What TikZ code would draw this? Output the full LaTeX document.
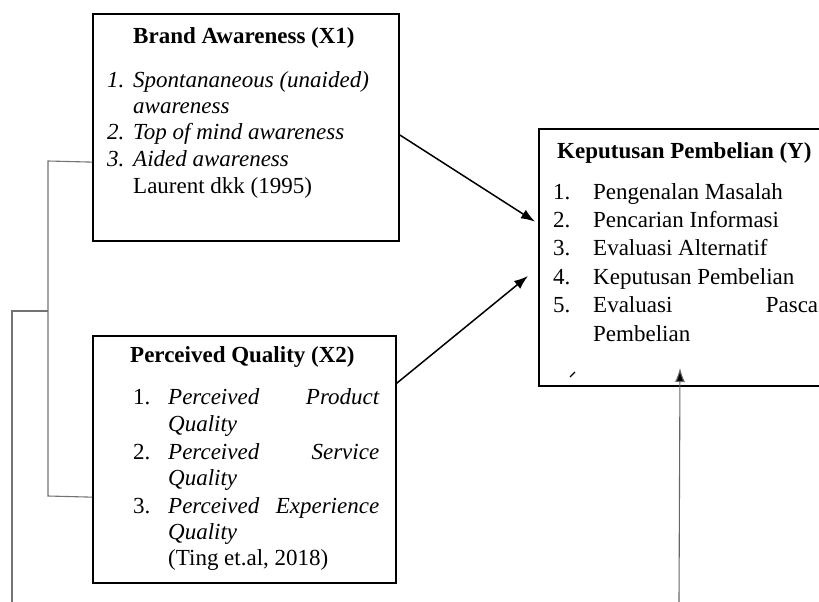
\documentclass[tikz,border=0pt]{standalone}
\usepackage{fontspec}
\setmainfont{Liberation Serif}
\usetikzlibrary{arrows.meta,calc}
\begin{document}
\begin{tikzpicture}[x=1pt,y=-1pt,
  box/.style={draw=black,line width=1.7pt,inner sep=0pt,anchor=north west},
  txt/.style={anchor=base west,inner sep=0pt,font=\fontsize{23}{27}\selectfont},
  itx/.style={txt,font=\fontsize{23}{27}\selectfont\itshape},
  ttl/.style={txt,font=\fontsize{23}{27}\selectfont\bfseries},
  brk/.style={draw=black!55,line width=1.1pt},
  arr/.style={draw=black,line width=1.5pt,-{Latex[length=14pt,width=10pt]}}
]
\useasboundingbox (0,0) rectangle (819,602);
% boxes
\node[box,minimum width=306pt,minimum height=227pt] (x1) at (92,13) {};
\node[box,minimum width=303pt,minimum height=247pt] (x2) at (92,335) {};
\node[box,minimum width=292pt,minimum height=257pt] (y) at (538,128) {};

% X1 text
\node[ttl] (t1) at (133,44) {Brand Awareness (X1)};
\node[itx] (n11) at (107,87) {1.};
\node[itx] (i11) at (133,87) {Spontananeous (unaided)};
\node[itx] (i11b) at (133,113) {awareness};
\node[itx] (n12) at (107,139) {2.};
\node[itx] (i12) at (133,139) {Top of mind awareness};
\node[itx] (n13) at (107,166) {3.};
\node[itx] (i13) at (133,166) {Aided awareness};
\node[txt] (r1) at (133,193) {Laurent dkk (1995)};

% X2 text
\node[ttl] (t2) at (130,362) {Perceived Quality (X2)};
\node[txt] (n21) at (133,404) {1.};
\node[itx] (i21) at (168,404) {\makebox[211pt][l]{Perceived\hfill Product}};
\node[itx] (i21b) at (168,431) {Quality};
\node[txt] (n22) at (133,459) {2.};
\node[itx] (i22) at (168,459) {\makebox[211pt][l]{Perceived\hfill Service}};
\node[itx] (i22b) at (168,485) {Quality};
\node[txt] (n23) at (133,513) {3.};
\node[itx] (i23) at (168,513) {\makebox[211pt][l]{Perceived\hfill Experience}};
\node[itx] (i23b) at (168,539) {Quality};
\node[txt] (r2) at (168,565) {(Ting et.al, 2018)};

% Y text
\node[ttl] (t3) at (557,158) {Keputusan Pembelian (Y)};
\node[txt] (n31) at (553,199) {1.};
\node[txt] (i31) at (593,199) {Pengenalan Masalah};
\node[txt] (n32) at (553,227) {2.};
\node[txt] (i32) at (593,227) {Pencarian Informasi};
\node[txt] (n33) at (553,255) {3.};
\node[txt] (i33) at (593,255) {Evaluasi Alternatif};
\node[txt] (n34) at (553,284) {4.};
\node[txt] (i34) at (593,284) {Keputusan Pembelian};
\node[txt] (n35) at (553,312) {5.};
\node[txt] (i35) at (593,312) {\makebox[225pt][l]{Evaluasi\hfill Pasca}};
\node[txt] (i35b) at (593,341) {Pembelian};

% small stray mark
\coordinate (m1) at (570,377);
\coordinate (m2) at (575,372);
\draw[line width=1.2pt] (m1) -- (m2);

% arrow connection points
\coordinate (a1s) at ($(x1.north east)!0.533!(x1.south east)$);
\coordinate (a1e) at ($(y.north west)!0.362!(y.south west)+(-3,0)$);
\coordinate (a2s) at ($(x2.north east)!0.194!(x2.south east)$);
\coordinate (a2e) at ($(y.north west)!0.572!(y.south west)+(-10,0)$);
\coordinate (a3s) at (679,602);
\coordinate (a3e) at (680,368);
\draw[arr] (a1s) -- (a1e);
\draw[arr] (a2s) -- (a2e);
\draw[draw=black!60,line width=1.1pt,-{Latex[length=14pt,width=10pt,fill=black]}] (a3s) -- (a3e);

% brackets
\coordinate (b1) at ($(x1.north west)!0.652!(x1.south west)$);
\coordinate (b2) at ($(x2.north west)!0.652!(x2.south west)$);
\coordinate (bk1) at (48,161);
\coordinate (bk2) at (48,496);
\coordinate (bm) at (48,311);
\coordinate (bl1) at (12,311);
\coordinate (bl2) at (12,602);
\draw[brk] (b1) -- (bk1) -- (bk2) -- (b2);
\draw[brk] (bm) -- (bl1) -- (bl2);
\end{tikzpicture}
\end{document}
